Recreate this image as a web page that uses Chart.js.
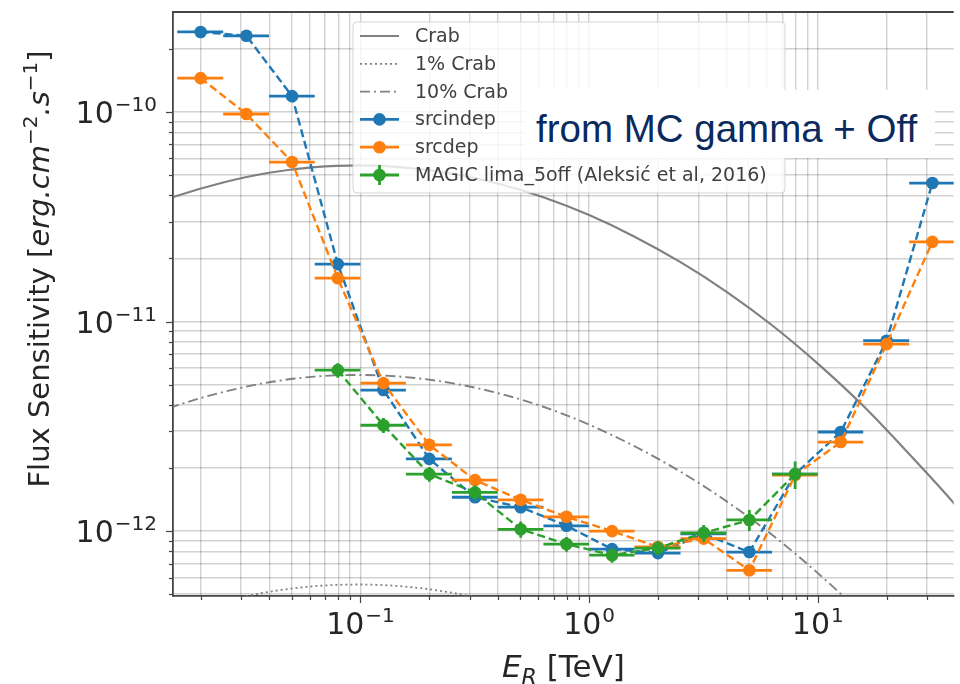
<!DOCTYPE html>
<html>
<head>
<meta charset="utf-8">
<title>Flux Sensitivity</title>
<script src="https://cdn.jsdelivr.net/npm/chart.js@4.4.0/dist/chart.umd.min.js"></script>
<style>
    html, body { margin: 0; padding: 0; background: #fff; }
    #wrap { position: relative; width: 960px; height: 684px; overflow: hidden; }
    #note-bg { position: absolute; left: 525px; top: 90px; width: 410px; height: 68px; background: #fff; }
    #note { position: absolute; left: 536px; top: 110px; font: 38.5px/38px "Liberation Sans", Arial, sans-serif; color: #0a2a5e; white-space: nowrap; }
</style>
</head>
<body>
<div id="wrap">
    <canvas id="sensChart" width="960" height="684"></canvas>
    <div id="note-bg"></div>
    <div id="note">from MC gamma + Off</div>
</div>
<script>
// reconstructed energy bins (TeV), 5 per decade
const energyCenters = [0.02, 0.0317, 0.0502, 0.0796, 0.126, 0.2, 0.317, 0.502, 0.796, 1.26, 2.0, 3.17, 5.02, 7.96, 12.6, 20.0, 31.7];
const binLow = [0.0158, 0.0251, 0.0398, 0.0631, 0.1, 0.158, 0.251, 0.398, 0.631, 1.0, 1.58, 2.51, 3.98, 6.31, 10.0, 15.8, 25.1];
const binHigh = [0.0251, 0.0398, 0.0631, 0.1, 0.158, 0.251, 0.398, 0.631, 1.0, 1.58, 2.51, 3.98, 6.31, 10.0, 15.8, 25.1, 39.8];

const srcindepFlux = [2.41e-10, 2.31e-10, 1.19e-10, 1.88e-11, 4.71e-12, 2.21e-12, 1.45e-12, 1.30e-12, 1.06e-12, 8.2e-13, 7.85e-13, 9.7e-13, 7.94e-13, 1.87e-12, 2.97e-12, 8.1e-12, 4.58e-11];
const srcdepFlux = [1.45e-10, 9.78e-11, 5.77e-11, 1.61e-11, 5.08e-12, 2.58e-12, 1.75e-12, 1.41e-12, 1.17e-12, 1.0e-12, 8.4e-13, 9.2e-13, 6.5e-13, 1.85e-12, 2.66e-12, 7.8e-12, 2.40e-11];

const magicEnergy = [0.0796, 0.126, 0.2, 0.317, 0.502, 0.796, 1.26, 2.0, 3.17, 5.02, 7.96];
const magicLow = [0.0631, 0.1, 0.158, 0.251, 0.398, 0.631, 1.0, 1.58, 2.51, 3.98, 6.31];
const magicHigh = [0.1, 0.158, 0.251, 0.398, 0.631, 1.0, 1.58, 2.51, 3.98, 6.31, 10.0];
const magicFlux = [5.86e-12, 3.2e-12, 1.87e-12, 1.53e-12, 1.02e-12, 8.67e-13, 7.67e-13, 8.3e-13, 9.8e-13, 1.13e-12, 1.87e-12];
const magicFluxErr = [4.7e-13, 2.6e-13, 1.5e-13, 1.2e-13, 0.9e-13, 0.7e-13, 0.6e-13, 0.65e-13, 0.9e-13, 1.3e-13, 2.8e-13];

const crabEnergy = [0.01, 0.0158, 0.0251, 0.0398, 0.0631, 0.1, 0.158, 0.251, 0.398, 0.631, 1.0, 1.58, 2.51, 3.98, 6.31, 10.0, 15.8, 25.1, 39.8, 63.1];
const crabFlux = [3.30e-11, 3.98e-11, 4.61e-11, 5.13e-11, 5.46e-11, 5.56e-11, 5.43e-11, 5.08e-11, 4.56e-11, 3.92e-11, 3.22e-11, 2.54e-11, 1.92e-11, 1.39e-11, 9.6e-12, 6.3e-12, 3.96e-12, 2.33e-12, 1.34e-12, 7.3e-13];
const crabOnePercent = crabFlux.map(v => v * 0.01);
const crabTenPercent = crabFlux.map(v => v * 0.1);

const xTickValues = [0.1, 1, 10];
const xTickLabels = [['10', '\u22121'], ['10', '0'], ['10', '1']];
const yTickValues = [1e-12, 1e-11, 1e-10];
const yTickLabels = [['10', '\u221212'], ['10', '\u221211'], ['10', '\u221210']];

const xMin = 0.01514, xMax = 39.3;
const yMin = 4.9e-13, yMax = 3.0e-10;

const FONT = '"DejaVu Sans", sans-serif';
const crabColor = 'rgba(115,115,115,0.9)';
const gridColor = 'rgba(0,0,0,0.18)';

function points(xs, ys) {
    return xs.map((x, i) => ({ x: x, y: ys[i] }));
}

// 1..9 x 10^n ticks, like matplotlib major + minor grid
function logTicks(min, max) {
    const ticks = [];
    for (let e = Math.floor(Math.log10(min)); e <= Math.ceil(Math.log10(max)); e++) {
        for (let m = 1; m < 10; m++) {
            const v = m * Math.pow(10, e);
            if (v > min && v < max) {
                ticks.push({ value: v, major: m === 1 });
            }
        }
    }
    return ticks;
}

const errorBarPlugin = {
    id: 'errorBars',
    beforeDatasetDraw(chart, args) {
        const ds = chart.data.datasets[args.index];
        if (!ds.xLow) return;
        const { ctx, chartArea, scales: { x, y } } = chart;
        ctx.save();
        ctx.beginPath();
        ctx.rect(chartArea.left, chartArea.top, chartArea.right - chartArea.left, chartArea.bottom - chartArea.top);
        ctx.clip();
        ctx.strokeStyle = ds.borderColor;
        ctx.lineWidth = 2.8;
        ctx.setLineDash([]);
        ds.data.forEach((p, i) => {
            const px = x.getPixelForValue(p.x);
            const py = y.getPixelForValue(p.y);
            ctx.beginPath();
            ctx.moveTo(x.getPixelForValue(ds.xLow[i]), py);
            ctx.lineTo(x.getPixelForValue(ds.xHigh[i]), py);
            if (ds.yErr) {
                ctx.moveTo(px, y.getPixelForValue(p.y - ds.yErr[i]));
                ctx.lineTo(px, y.getPixelForValue(p.y + ds.yErr[i]));
            }
            ctx.stroke();
        });
        ctx.restore();
    }
};

function drawPower(ctx, label, x, baseline, align) {
    ctx.font = '30px ' + FONT;
    const wb = ctx.measureText(label[0]).width;
    ctx.font = '20px ' + FONT;
    const we = ctx.measureText(label[1]).width;
    const total = wb + we + 1;
    const left = align === 'right' ? x - total : x - total / 2;
    ctx.textAlign = 'left';
    ctx.textBaseline = 'alphabetic';
    ctx.font = '30px ' + FONT;
    ctx.fillText(label[0], left, baseline);
    ctx.font = '20px ' + FONT;
    ctx.fillText(label[1], left + wb + 1, baseline - 12);
}

// draws a run of [text, style] pieces on one baseline, centred on 0
function drawRich(ctx, parts, size) {
    const fonts = {
        n: size + 'px ' + FONT,
        i: 'italic ' + size + 'px ' + FONT,
        sup: Math.round(size * 0.7) + 'px ' + FONT,
        sub: 'italic ' + Math.round(size * 0.7) + 'px ' + FONT
    };
    let total = 0;
    parts.forEach(p => {
        ctx.font = fonts[p[1]];
        total += ctx.measureText(p[0]).width;
    });
    let cx = -total / 2;
    ctx.textAlign = 'left';
    ctx.textBaseline = 'alphabetic';
    parts.forEach(p => {
        ctx.font = fonts[p[1]];
        let dy = 0;
        if (p[1] === 'sup') dy = -size * 0.42;
        if (p[1] === 'sub') dy = size * 0.22;
        ctx.fillText(p[0], cx, dy);
        cx += ctx.measureText(p[0]).width;
    });
}

const axesDecorPlugin = {
    id: 'axesDecor',
    afterDraw(chart) {
        const { ctx, chartArea: a, scales: { x, y } } = chart;
        ctx.save();

        // top spine
        ctx.strokeStyle = '#444';
        ctx.lineWidth = 1.8;
        ctx.beginPath();
        ctx.moveTo(a.left, a.top);
        ctx.lineTo(a.right, a.top);
        ctx.stroke();

        // tick marks
        ctx.lineWidth = 1.2;
        x.ticks.forEach(t => {
            const px = Math.round(x.getPixelForValue(t.value)) + 0.5;
            ctx.beginPath();
            ctx.moveTo(px, a.bottom);
            ctx.lineTo(px, a.bottom + (t.major ? 7 : 4));
            ctx.stroke();
        });
        y.ticks.forEach(t => {
            const py = Math.round(y.getPixelForValue(t.value)) + 0.5;
            ctx.beginPath();
            ctx.moveTo(a.left, py);
            ctx.lineTo(a.left - (t.major ? 7 : 4), py);
            ctx.stroke();
        });

        // tick labels
        ctx.fillStyle = '#262626';
        xTickValues.forEach((v, i) => {
            drawPower(ctx, xTickLabels[i], x.getPixelForValue(v), 634, 'center');
        });
        yTickValues.forEach((v, i) => {
            drawPower(ctx, yTickLabels[i], 157, y.getPixelForValue(v) + 11, 'right');
        });

        // axis titles
        ctx.save();
        ctx.translate((a.left + a.right) / 2, 677);
        drawRich(ctx, [['E', 'i'], ['R', 'sub'], [' [TeV]', 'n']], 31);
        ctx.restore();

        ctx.save();
        ctx.translate(49, 269);
        ctx.rotate(-Math.PI / 2);
        drawRich(ctx, [['Flux Sensitivity [', 'n'], ['erg.cm', 'i'], ['\u22122', 'sup'], ['.s', 'i'], ['\u22121', 'sup'], [']', 'n']], 29);
        ctx.restore();

        ctx.restore();
    }
};

const legendPlugin = {
    id: 'boxLegend',
    afterDraw(chart) {
        const { ctx } = chart;
        const box = { left: 353, top: 22, right: 785, bottom: 193 };
        const r = 4;
        ctx.save();
        ctx.beginPath();
        ctx.moveTo(box.left + r, box.top);
        ctx.arcTo(box.right, box.top, box.right, box.bottom, r);
        ctx.arcTo(box.right, box.bottom, box.left, box.bottom, r);
        ctx.arcTo(box.left, box.bottom, box.left, box.top, r);
        ctx.arcTo(box.left, box.top, box.right, box.top, r);
        ctx.closePath();
        ctx.fillStyle = 'rgba(255,255,255,0.8)';
        ctx.fill();
        ctx.strokeStyle = 'rgba(200,200,200,0.8)';
        ctx.lineWidth = 1;
        ctx.stroke();

        chart.data.datasets.forEach((ds, i) => {
            const cy = 36 + i * 27.8;
            ctx.strokeStyle = ds.borderColor;
            if (ds.xLow) {
                ctx.lineWidth = 2.8;
                ctx.setLineDash([]);
            } else {
                ctx.lineWidth = ds.borderWidth;
                ctx.setLineDash(ds.borderDash || []);
            }
            ctx.beginPath();
            ctx.moveTo(360, cy);
            ctx.lineTo(399, cy);
            ctx.stroke();
            ctx.setLineDash([]);
            if (ds.yErr) {
                ctx.beginPath();
                ctx.moveTo(379.5, cy - 10);
                ctx.lineTo(379.5, cy + 10);
                ctx.stroke();
            }
            if (ds.pointRadius > 0) {
                ctx.fillStyle = ds.backgroundColor;
                ctx.beginPath();
                ctx.arc(379.5, cy, ds.pointRadius, 0, Math.PI * 2);
                ctx.fill();
            }
            ctx.fillStyle = '#404040';
            ctx.font = '19px ' + FONT;
            ctx.textAlign = 'left';
            ctx.textBaseline = 'middle';
            ctx.fillText(ds.label, 415, cy + 1);
        });
        ctx.restore();
    }
};

const ctx = document.getElementById('sensChart');

const sensChart = new Chart(ctx, {
    type: 'scatter',
    data: {
        datasets: [
            {
                label: 'Crab',
                data: points(crabEnergy, crabFlux),
                showLine: true,
                borderColor: crabColor,
                borderWidth: 2.2,
                pointRadius: 0,
                cubicInterpolationMode: 'monotone',
                order: 5
            },
            {
                label: '1% Crab',
                data: points(crabEnergy, crabOnePercent),
                showLine: true,
                borderColor: crabColor,
                borderWidth: 1.8,
                borderDash: [2, 3],
                pointRadius: 0,
                cubicInterpolationMode: 'monotone',
                order: 4
            },
            {
                label: '10% Crab',
                data: points(crabEnergy, crabTenPercent),
                showLine: true,
                borderColor: crabColor,
                borderWidth: 1.9,
                borderDash: [10, 4, 2, 4],
                pointRadius: 0,
                cubicInterpolationMode: 'monotone',
                order: 3
            },
            {
                label: 'srcindep',
                data: points(energyCenters, srcindepFlux),
                xLow: binLow,
                xHigh: binHigh,
                showLine: true,
                borderColor: '#1f77b4',
                backgroundColor: '#1f77b4',
                borderWidth: 2.4,
                borderDash: [8, 4],
                pointRadius: 6.3,
                pointBorderWidth: 0,
                order: 2
            },
            {
                label: 'srcdep',
                data: points(energyCenters, srcdepFlux),
                xLow: binLow,
                xHigh: binHigh,
                showLine: true,
                borderColor: '#ff7f0e',
                backgroundColor: '#ff7f0e',
                borderWidth: 2.4,
                borderDash: [8, 4],
                pointRadius: 6.3,
                pointBorderWidth: 0,
                order: 1
            },
            {
                label: 'MAGIC lima_5off (Aleksi\u0107 et al, 2016)',
                data: points(magicEnergy, magicFlux),
                xLow: magicLow,
                xHigh: magicHigh,
                yErr: magicFluxErr,
                showLine: true,
                borderColor: '#2ca02c',
                backgroundColor: '#2ca02c',
                borderWidth: 2.4,
                borderDash: [8, 4],
                pointRadius: 6.3,
                pointBorderWidth: 0,
                order: 0
            }
        ]
    },
    options: {
        responsive: false,
        animation: false,
        events: [],
        layout: {
            padding: { top: 12, right: 0, bottom: 0, left: 0 }
        },
        plugins: {
            legend: { display: false },
            tooltip: { enabled: false }
        },
        scales: {
            x: {
                type: 'logarithmic',
                min: xMin,
                max: xMax,
                afterBuildTicks: axis => { axis.ticks = logTicks(xMin, xMax); },
                afterFit: axis => { axis.height = 88; },
                ticks: { display: false },
                grid: { color: gridColor, lineWidth: 1.4, drawTicks: false },
                border: { color: '#444', width: 1.8 }
            },
            y: {
                type: 'logarithmic',
                min: yMin,
                max: yMax,
                afterBuildTicks: axis => { axis.ticks = logTicks(yMin, yMax); },
                afterFit: axis => { axis.width = 173; },
                ticks: { display: false },
                grid: { color: gridColor, lineWidth: 1.4, drawTicks: false },
                border: { color: '#444', width: 1.8 }
            }
        }
    },
    plugins: [errorBarPlugin, axesDecorPlugin, legendPlugin]
});
</script>
</body>
</html>
